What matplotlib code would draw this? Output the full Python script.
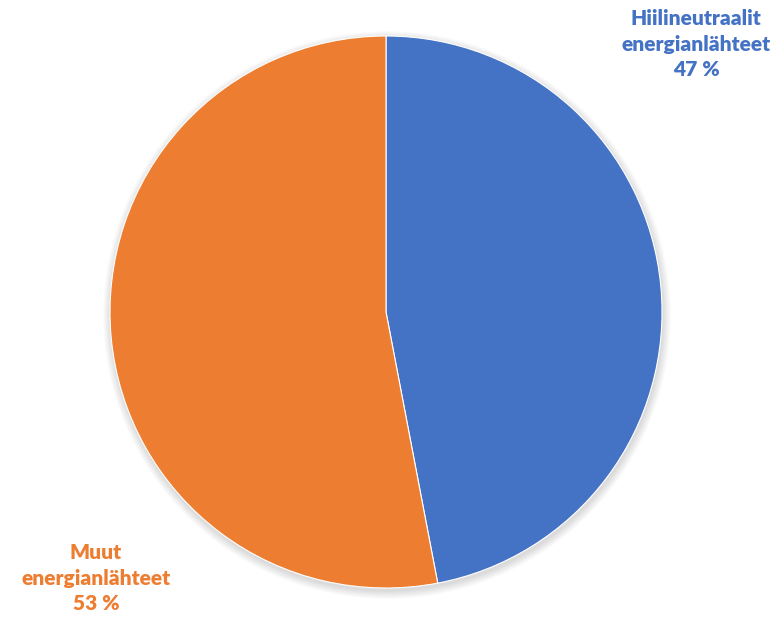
import matplotlib
matplotlib.use("Agg")
import matplotlib.pyplot as plt
from matplotlib.patches import Circle

labels = ["Hiilineutraalit\nenergianlähteet", "Muut\nenergianlähteet"]
values = [47, 53]
colors = ["#4472C4", "#ED7D31"]

W, H = 774, 621
fig = plt.figure(figsize=(W / 100, H / 100), dpi=100)
ax = fig.add_axes([0, 0, 1, 1])
ax.set_xlim(0, W)
ax.set_ylim(0, H)
ax.set_aspect("equal")
ax.axis("off")

cx, cy, r = 386, H - 312, 276

# soft shadow
for i in range(12):
    ax.add_patch(Circle((cx + 1, cy - 3), r + 8 - i * 0.7, color="#000000",
                        alpha=0.012, lw=0, zorder=0))

ax.pie(values, colors=colors, startangle=90, counterclock=False,
       center=(cx, cy), radius=r,
       wedgeprops=dict(edgecolor="white", linewidth=0.8))
ax.set_xlim(0, W)
ax.set_ylim(0, H)

fp = dict(family=["Lato", "DejaVu Sans"], fontweight="heavy", fontsize=15,
          ha="center", va="center", linespacing=1.4)
ax.text(696, H - 44, f"{labels[0]}\n{values[0]} %", color=colors[0], **fp)
ax.text(96, H - 578, f"{labels[1]}\n{values[1]} %", color=colors[1], **fp)

fig.savefig("out.png", dpi=100)
